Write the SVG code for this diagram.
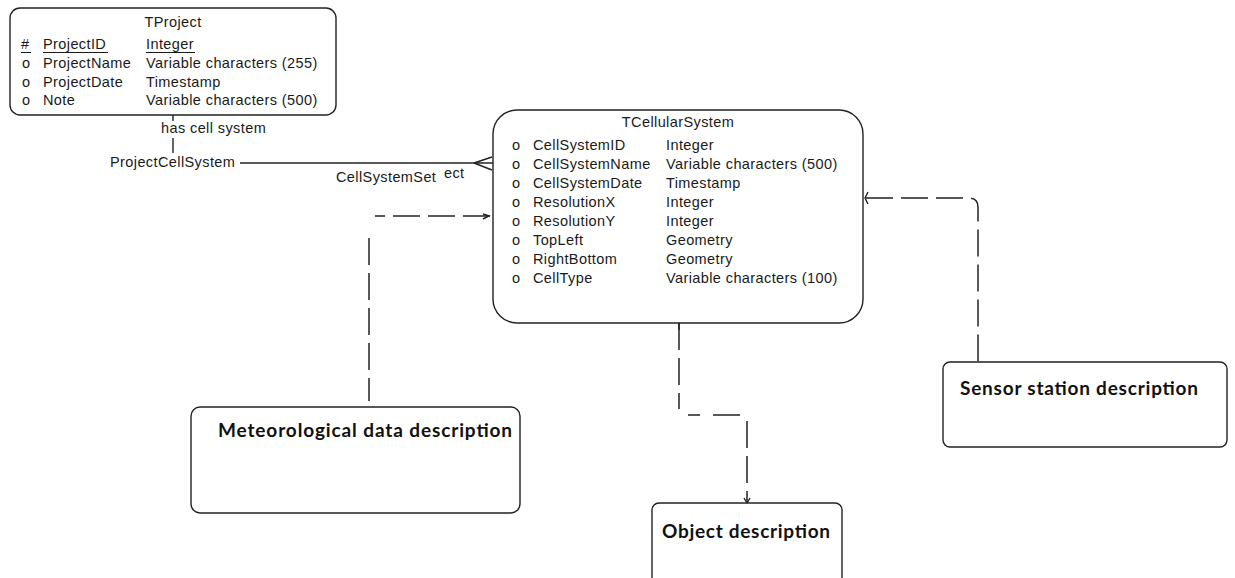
<svg xmlns="http://www.w3.org/2000/svg" width="1235" height="578" viewBox="0 0 1235 578">
<style>
.box{fill:#fff;stroke:#222;stroke-width:1.4}
.t{font-family:"Liberation Sans",Arial,sans-serif;font-size:14.5px;letter-spacing:0.4px;fill:#1a1a1a}
.mid{text-anchor:middle}
.b{font-family:Lato,"Liberation Sans",sans-serif;font-weight:bold;font-size:19px;fill:#111}
.solid{fill:none;stroke:#222;stroke-width:1.4}
.dash{fill:none;stroke:#222;stroke-width:1.5;stroke-dasharray:27 8}
.u{stroke:#1a1a1a;stroke-width:1}
</style>
<g id="connectors">
  <path class="solid" d="M173,115 V121"/>
  <path class="solid" d="M173,138 V153"/>
  <path class="solid" d="M240,163 H493"/>
  <path class="solid" d="M474,163 L492,157 M474,163 L492,170"/>
  <text class="t" x="161" y="133">has cell system</text>
  <text class="t" x="110" y="167">ProjectCellSystem</text>
  <text class="t" x="336" y="182">CellSystemSet</text>
  <text class="t" x="444" y="178">ect</text>
  <path class="dash" d="M490,216 H375"/>
  <path class="dash" d="M369,238 V401"/>
  <path class="solid" d="M483,214 L489,216 L483,219" stroke-width="1"/>
  <path class="dash" d="M679,323 V409"/>
  <path class="dash" d="M688,415 H700 M713,415 H745"/>
  <path class="dash" d="M747,421 V503"/>
  <path class="solid" d="M679,323 V330"/>
  <path class="solid" d="M744,498 L747,503 L750,498" stroke-width="1"/>
  <path class="dash" d="M866,198 H969 Q978,198 978,207 V362"/>
  <path class="solid" d="M868,192 L865,198 L868,204" stroke-width="1"/>
</g>
<g id="TProject">
  <rect class="box" x="10" y="8" width="326" height="107" rx="10"/>
  <text class="t mid" x="173" y="27">TProject</text>
  <text class="t" x="21" y="49">#</text>
  <text class="t" x="43" y="49">ProjectID</text>
  <text class="t" x="146" y="49">Integer</text>
  <path class="u" d="M21,52.5 H31 M43,52.5 H108 M146,52.5 H195"/>
  <text class="t" x="22" y="68">o</text>
  <text class="t" x="43" y="68">ProjectName</text>
  <text class="t" x="146" y="68">Variable characters (255)</text>
  <text class="t" x="22" y="87">o</text>
  <text class="t" x="43" y="87">ProjectDate</text>
  <text class="t" x="146" y="87">Timestamp</text>
  <text class="t" x="22" y="105">o</text>
  <text class="t" x="43" y="105">Note</text>
  <text class="t" x="146" y="105">Variable characters (500)</text>
</g>
<g id="TCellularSystem">
  <rect class="box" x="493" y="110" width="370" height="213" rx="24"/>
  <text class="t mid" x="678" y="127">TCellularSystem</text>
  <g class="t">
    <text x="512" y="150">o</text><text x="533" y="150">CellSystemID</text><text x="666" y="150">Integer</text>
    <text x="512" y="169">o</text><text x="533" y="169">CellSystemName</text><text x="666" y="169">Variable characters (500)</text>
    <text x="512" y="188">o</text><text x="533" y="188">CellSystemDate</text><text x="666" y="188">Timestamp</text>
    <text x="512" y="207">o</text><text x="533" y="207">ResolutionX</text><text x="666" y="207">Integer</text>
    <text x="512" y="226">o</text><text x="533" y="226">ResolutionY</text><text x="666" y="226">Integer</text>
    <text x="512" y="245">o</text><text x="533" y="245">TopLeft</text><text x="666" y="245">Geometry</text>
    <text x="512" y="264">o</text><text x="533" y="264">RightBottom</text><text x="666" y="264">Geometry</text>
    <text x="512" y="283">o</text><text x="533" y="283">CellType</text><text x="666" y="283">Variable characters (100)</text>
  </g>
</g>
<g id="Meteorological">
  <rect class="box" x="191" y="407" width="329" height="106" rx="9"/>
  <text class="b" x="218" y="437" textLength="294">Meteorological data description</text>
</g>
<g id="ObjectDescription">
  <rect class="box" x="652" y="503" width="190" height="90" rx="7"/>
  <text class="b" x="662" y="538" textLength="168">Object description</text>
</g>
<g id="SensorStation">
  <rect class="box" x="943" y="362" width="284" height="85" rx="7"/>
  <text class="b" x="960" y="395" textLength="238">Sensor station description</text>
</g>
</svg>
